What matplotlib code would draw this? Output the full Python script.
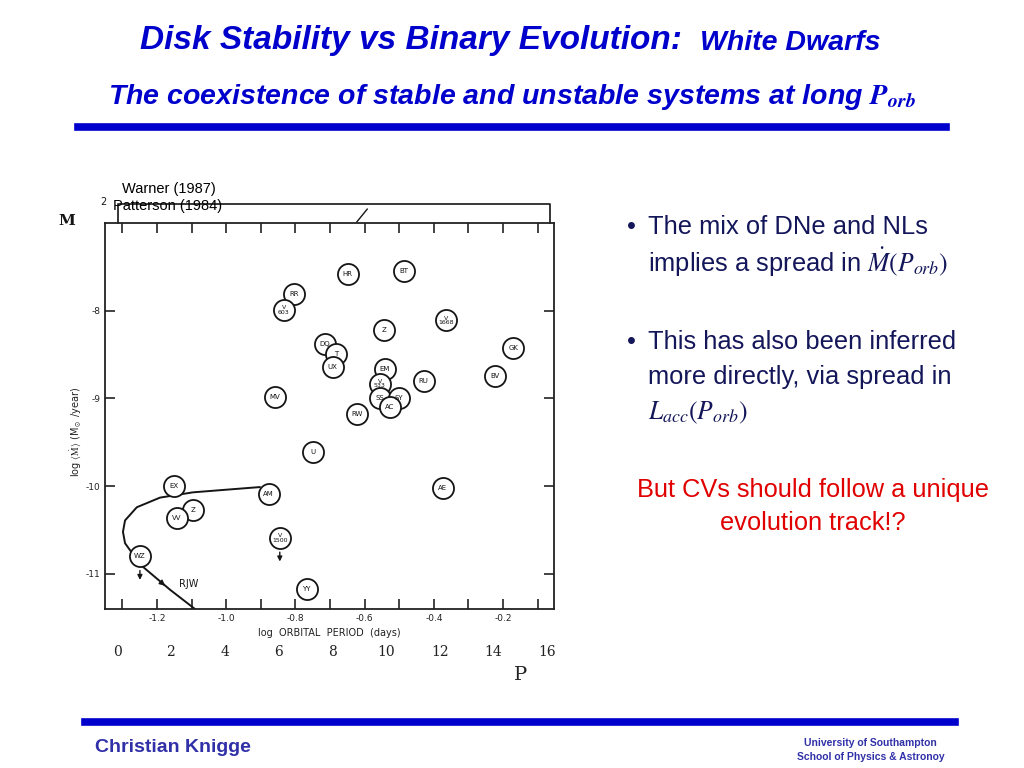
import matplotlib
matplotlib.use("Agg")
import matplotlib.pyplot as plt
import numpy as np

plt.rcParams["mathtext.fontset"] = "stix"

# systems: name, log P_orb (days), log <Mdot> (Msun/yr)
names = ["HR", "BT", "RR", "V\n603", "Z", "V\n1668", "GK", "DQ", "T", "UX",
         "EM", "V\n533", "RU", "BV", "MV", "SS", "SY", "AC", "RW", "U",
         "EX", "AM", "AE", "Z", "VV", "V\n1500", "WZ", "YY"]
log_p = [-0.649, -0.487, -0.805, -0.833, -0.545, -0.366, -0.170, -0.715, -0.683, -0.692,
         -0.542, -0.556, -0.429, -0.222, -0.859, -0.556, -0.502, -0.528, -0.623, -0.750,
         -1.151, -0.877, -0.375, -1.096, -1.142, -0.845, -1.249, -0.767]
log_mdot = [-7.58, -7.55, -7.81, -7.99, -8.22, -8.11, -8.42, -8.38, -8.49, -8.64,
            -8.66, -8.83, -8.80, -8.74, -8.98, -8.99, -8.99, -9.10, -9.18, -9.61,
            -10.00, -10.09, -10.02, -10.27, -10.36, -10.59, -10.80, -11.17]
upper_limits = ["WZ", "V\n1500"]

# RJW evolution track
track_x = [-0.903, -1.000, -1.096, -1.191, -1.258, -1.292, -1.298, -1.292, -1.272, -1.240, -1.162, -1.090]
track_y = [-10.01, -10.04, -10.07, -10.13, -10.24, -10.39, -10.52, -10.65, -10.76, -10.92, -11.18, -11.40]

# orbital period in hours (second scale)
p_hours = [0, 2, 4, 6, 8, 10, 12, 14, 16]

xticks_major = [-1.2, -1.0, -0.8, -0.6, -0.4, -0.2]
yticks = [-8, -9, -10, -11]

blue = "#0000CC"
navy = "#14165A"
ink = "#151515"
sans = ["Liberation Sans", "DejaVu Sans"]

fig = plt.figure(figsize=(10.24, 7.68), dpi=100)

# title and subtitle
fig.text(0.137, 0.947, "Disk Stability vs Binary Evolution:", ha="left", va="center",
         fontsize=24, fontweight="bold", style="italic", color=blue, family=sans)
fig.text(0.684, 0.944, "White Dwarfs", ha="left", va="center",
         fontsize=20.5, fontweight="bold", style="italic", color=blue, family=sans)
fig.text(0.5, 0.874, r"The coexistence of stable and unstable systems at long $\mathbfit{P}_{\mathbfit{orb}}$",
         ha="center", va="center", fontsize=20.5, fontweight="bold", style="italic",
         color=blue, family=sans)

# horizontal bars
fig.add_artist(plt.Line2D([0.076, 0.924], [0.834, 0.834], color=blue, lw=5.5,
                          transform=fig.transFigure))
fig.add_artist(plt.Line2D([0.083, 0.933], [0.060, 0.060], color=blue, lw=5.5,
                          transform=fig.transFigure))

# footer
fig.text(0.093, 0.027, "Christian Knigge", ha="left", va="center", fontsize=14,
         fontweight="bold", color="#3030A8", family=sans)
fig.text(0.850, 0.033, "University of Southampton", ha="center", va="center",
         fontsize=7.5, fontweight="bold", color="#3030A8", family=sans)
fig.text(0.850, 0.014, "School of Physics & Astronoy", ha="center", va="center",
         fontsize=7.5, fontweight="bold", color="#3030A8", family=sans)

# bullets
bullet_kw = dict(ha="left", va="center", fontsize=18.4, color=navy, family=sans)
fig.text(0.612, 0.704, "\u2022", **bullet_kw)
fig.text(0.633, 0.704, "The mix of DNe and NLs", **bullet_kw)
fig.text(0.633, 0.658, r"implies a spread in $\dot{M}(P_{orb})$", **bullet_kw)
fig.text(0.612, 0.555, "\u2022", **bullet_kw)
fig.text(0.633, 0.555, "This has also been inferred", **bullet_kw)
fig.text(0.633, 0.509, "more directly, via spread in", **bullet_kw)
fig.text(0.633, 0.462, r"$L_{acc}(P_{orb})$", **bullet_kw)
fig.text(0.794, 0.362, "But CVs should follow a unique", ha="center", va="center",
         fontsize=18.3, color="#E00000", family=sans)
fig.text(0.794, 0.319, "evolution track!?", ha="center", va="center",
         fontsize=18.3, color="#E00000", family=sans)

# main scanned-style plot
ax = fig.add_axes([0.1025, 0.207, 0.4385, 0.5026])
ax.set_xlim(-1.35, -0.053)
ax.set_ylim(-11.4, -7.0)
ax.set_xticks(xticks_major)
ax.set_xticks(np.arange(-1.3, -0.05, 0.1), minor=True)
ax.set_xticklabels(["%.1f" % v for v in xticks_major])
ax.set_yticks(yticks)
ax.set_yticklabels(["%d" % v for v in yticks])
ax.tick_params(which="both", direction="in", top=True, right=True, labelsize=6.5,
               width=1.2, colors="#222222", length=7)
for s in ax.spines.values():
    s.set_linewidth(1.3)
    s.set_color("#222222")
ax.set_xlabel("log  ORBITAL  PERIOD  (days)", fontsize=7, labelpad=4, color="#222222")
ax.set_ylabel(r"log $\langle\dot{\rm M}\rangle$ (M$_\odot$ /year)", fontsize=7,
              color="#222222")
ax.yaxis.set_label_coords(-0.05, 0.46)

ax.plot(track_x, track_y, color=ink, lw=1.4, zorder=2)
ax.annotate("", xy=(-1.170, -11.155), xytext=(-1.186, -11.102),
            arrowprops=dict(arrowstyle="-|>", color=ink, lw=1, mutation_scale=8))
ax.text(-1.135, -11.12, "RJW", fontsize=7, color=ink, va="center")

ax.scatter(log_p, log_mdot, s=230, facecolor="white", edgecolor=ink,
           linewidth=1.3, zorder=3)
for name, x, y in zip(names, log_p, log_mdot):
    ax.text(x, y, name, ha="center", va="center", fontsize=4.5 if "\n" in name else 5,
            color=ink, zorder=4, linespacing=0.9)
    if name in upper_limits:
        ax.annotate("", xy=(x, y - 0.30), xytext=(x, y - 0.13),
                    arrowprops=dict(arrowstyle="-|>", color=ink, lw=1,
                                    mutation_scale=7), zorder=4)

# bracket and marks above the plot
ax.plot([0.029, 0.029, 0.991, 0.991], [1.0, 1.049, 1.049, 1.0], transform=ax.transAxes,
        color=ink, lw=1.2, clip_on=False)
ax.plot([0.561, 0.584], [1.003, 1.036], transform=ax.transAxes, color=ink,
        lw=1.0, clip_on=False)
ax.text(-0.003, 1.055, "2", transform=ax.transAxes, fontsize=7, ha="center",
        va="center", color=ink)
ax.text(-0.085, 1.005, "M", transform=ax.transAxes, fontsize=11, ha="center",
        va="center", color=ink, family="DejaVu Serif", fontweight="bold")
ax.text(0.038, 1.088, "Warner (1987)", transform=ax.transAxes, fontsize=10.5,
        ha="left", va="center", family=sans)
ax.text(0.018, 1.044, "Patterson (1984)", transform=ax.transAxes, fontsize=10.5,
        ha="left", va="center", family=sans)

# period in hours scale
ax2 = fig.add_axes([0.1025, 0.166, 0.4385, 0.01])
ax2.set_xlim(-0.45, 16.25)
ax2.set_xticks(p_hours)
ax2.set_xticklabels([str(v) for v in p_hours])
ax2.set_yticks([])
ax2.tick_params(length=0, labelsize=10, colors="#222222")
for lab in ax2.get_xticklabels():
    lab.set_family("DejaVu Serif")
for s in ax2.spines.values():
    s.set_visible(False)
ax2.patch.set_alpha(0)
fig.text(0.508, 0.121, "P", fontsize=14, family="DejaVu Serif", ha="center",
         va="center", color="#222222")

fig.savefig("out.png", dpi=100)
